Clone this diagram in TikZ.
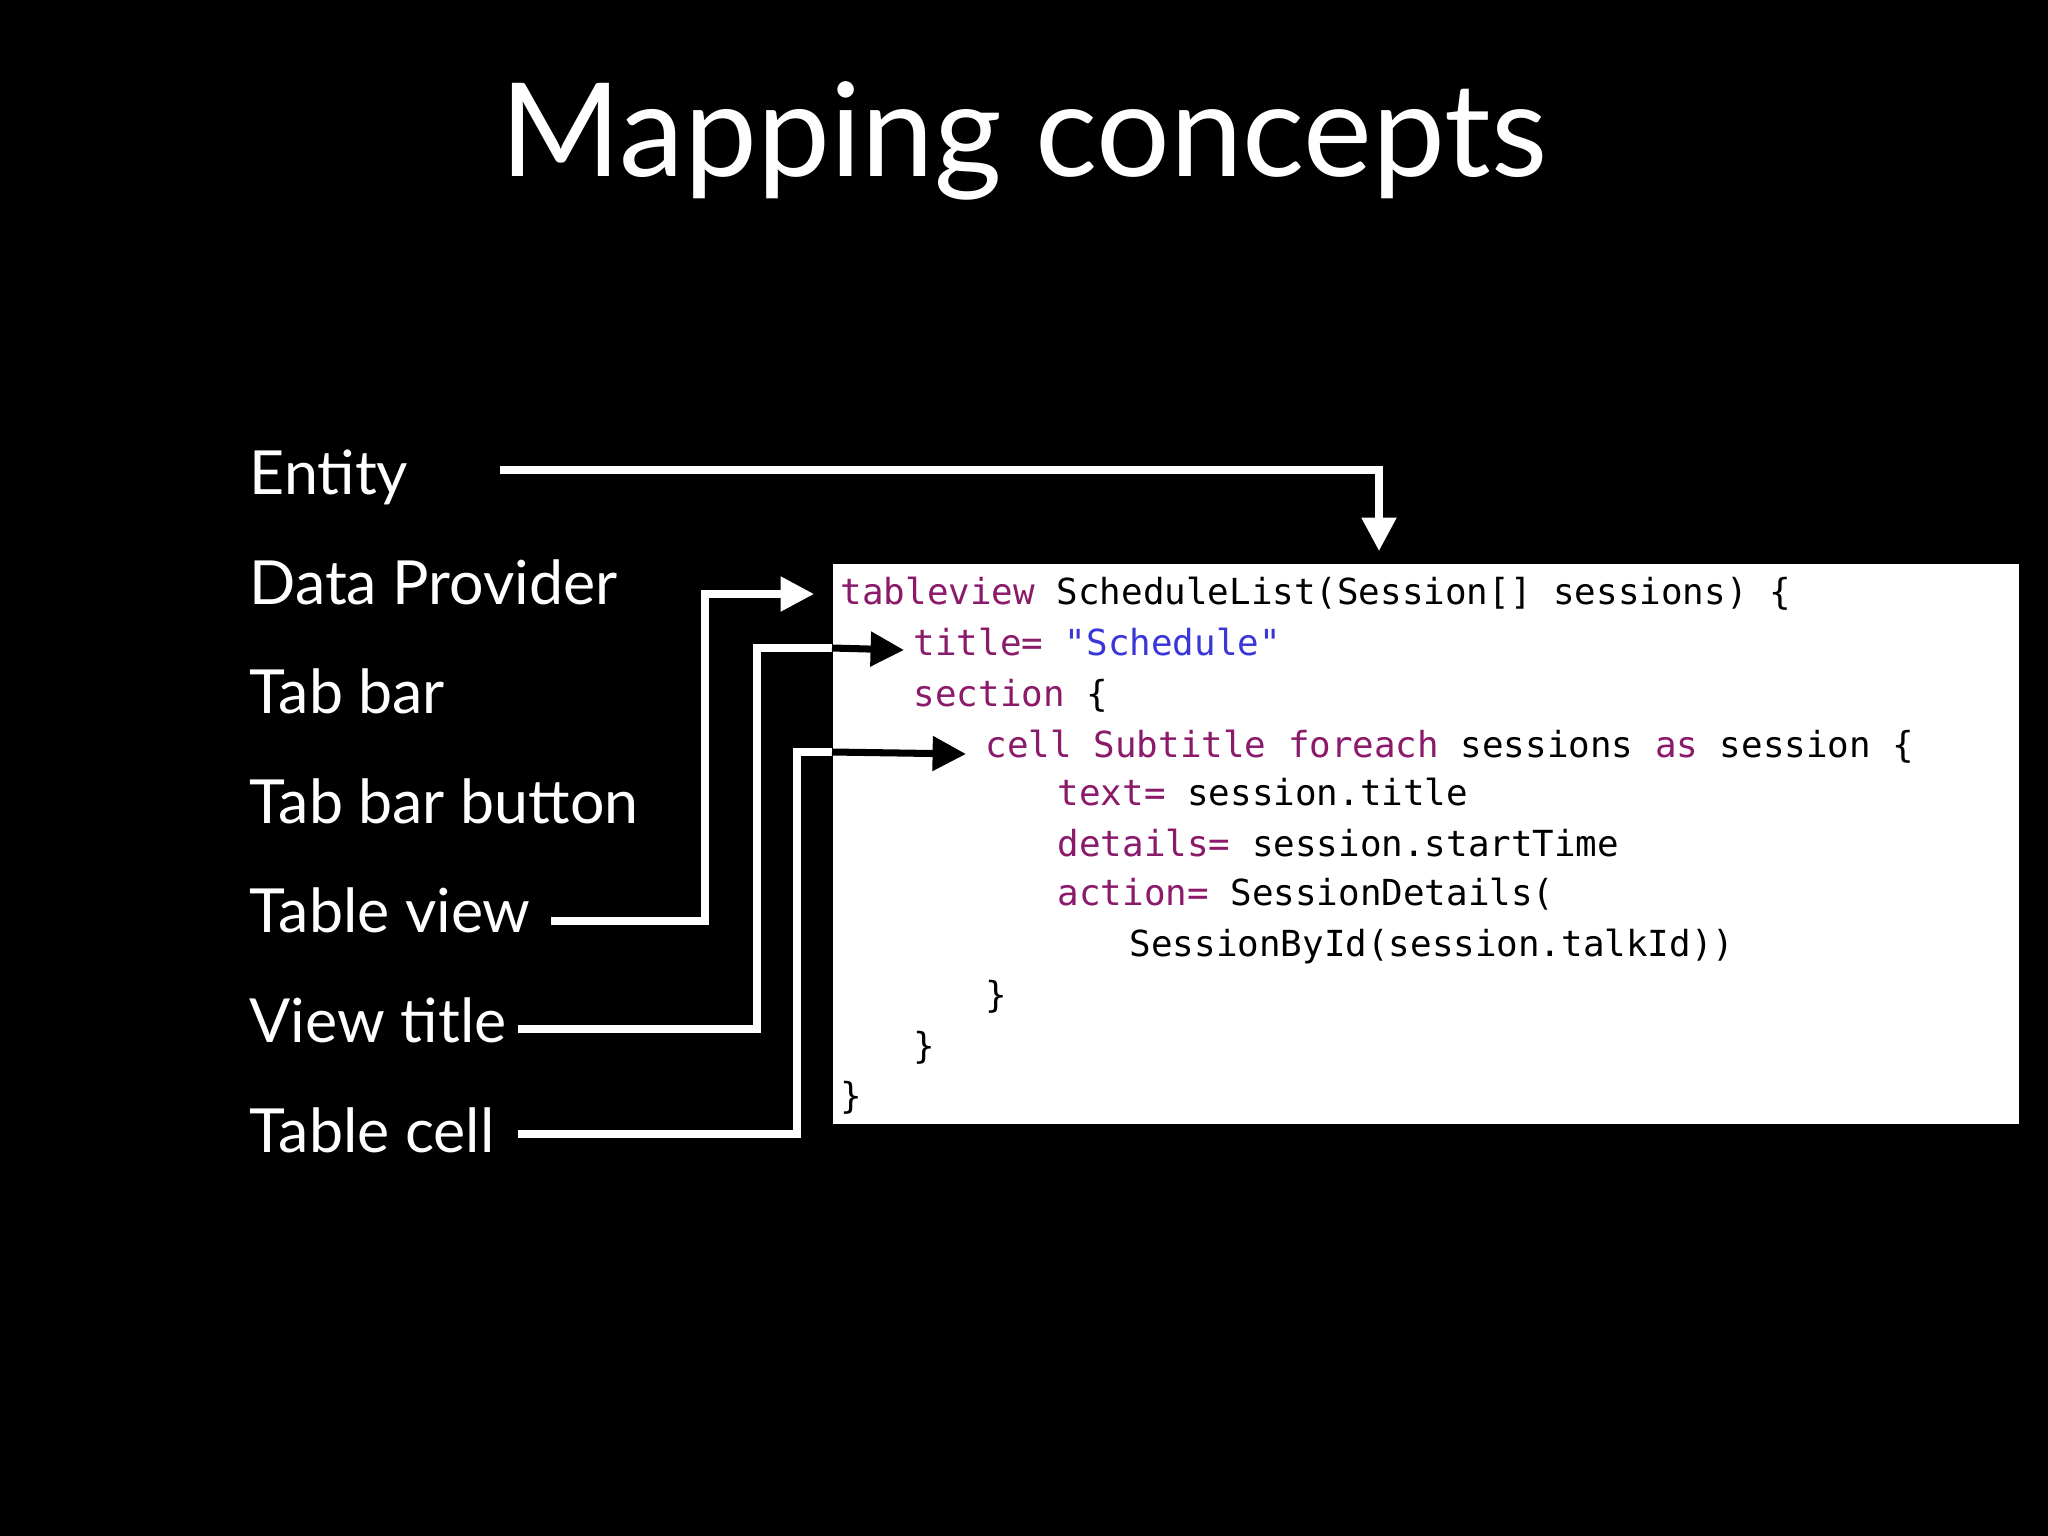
\documentclass[tikz,border=0pt]{standalone}
\usepackage{fontspec}
\setmainfont{Lato}
\setmonofont{DejaVu Sans Mono}
\usetikzlibrary{arrows.meta}
\definecolor{kw}{HTML}{8B1A6B}
\definecolor{str}{HTML}{3A36D8}
\begin{document}
\begin{tikzpicture}[x=0.01cm,y=-0.01cm,
  lbl/.style={anchor=base west,inner sep=0,text=white,font=\fontsize{17.3}{20}\selectfont},
  code/.style={anchor=base west,inner sep=0,text=black,font=\ttfamily\fontsize{10.2}{12}\selectfont},
  wline/.style={draw=white,line width=2pt},
  bline/.style={draw=black,line width=2pt,-{Triangle[length=9.5pt,width=9.5pt]}},
  warrow/.style={wline,-{Triangle[length=9.5pt,width=9.5pt]}}]
\fill[black] (0,0) rectangle (2048,1536);
\useasboundingbox (0,0) rectangle (2048,1536);
\node[anchor=base,inner sep=0,text=white,font=\fontsize{37}{40}\selectfont] (title) at (1024,176) {Mapping concepts};
\node[lbl] (entity) at (249,494) {Entity};
\node[lbl] (dp) at (249,604) {Data Provider};
\node[lbl] (tb) at (249,713) {Tab bar};
\node[lbl] (tbb) at (249,823) {Tab bar button};
\node[lbl] (tv) at (249,932) {Table view};
\node[lbl] (vt) at (249,1042) {View title};
\node[lbl] (tc) at (249,1152) {Table cell};
\node[fill=white,minimum width=11.86cm,minimum height=5.6cm,anchor=north west,inner sep=0] (box) at (832,563) {};
\node[code] (c1) at (840,604) {\textcolor{kw}{tableview} ScheduleList(Session[] sessions) \{};
\node[code] (c2) at (913,655) {\textcolor{kw}{title=} \textcolor{str}{"Schedule"}};
\node[code] (c3) at (913,706) {\textcolor{kw}{section} \{};
\node[code] (c4) at (985,757) {\textcolor{kw}{cell Subtitle foreach} sessions \textcolor{kw}{as} session \{};
\node[code] (c5) at (1057,805) {\textcolor{kw}{text=} session.title};
\node[code] (c6) at (1057,856) {\textcolor{kw}{details=} session.startTime};
\node[code] (c7) at (1057,905) {\textcolor{kw}{action=} SessionDetails(};
\node[code] (c8) at (1129,956) {SessionById(session.talkId))};
\node[code] (c9) at (985,1007) {\}};
\node[code] (c10) at (913,1058) {\}};
\node[code] (c11) at (840,1108) {\}};
% Entity
\coordinate (e0) at (500,470);
\coordinate (e1) at (1379,470);
\coordinate (e2) at (1379,551);
\draw[warrow] (e0) -- (e1) -- (e2);
% Table view
\coordinate (t0) at (551,921);
\coordinate (t1) at (705,921);
\coordinate (t2) at (705,594);
\coordinate (t3) at (814,594);
\draw[warrow] (t0) -- (t1) -- (t2) -- (t3);
% View title
\coordinate (v0) at (518,1029);
\coordinate (v1) at (757,1029);
\coordinate (v2) at (757,648);
\coordinate (v3) at (832,648);
\coordinate (v4) at (904,650);
\draw[wline] (v0) -- (v1) -- (v2) -- (v3);
\draw[bline] (v3) -- (v4);
% Table cell
\coordinate (k0) at (518,1134);
\coordinate (k1) at (797,1134);
\coordinate (k2) at (797,752);
\coordinate (k3) at (832,752);
\coordinate (k4) at (966,754);
\draw[wline] (k0) -- (k1) -- (k2) -- (k3);
\draw[bline] (k3) -- (k4);
\end{tikzpicture}
\end{document}
